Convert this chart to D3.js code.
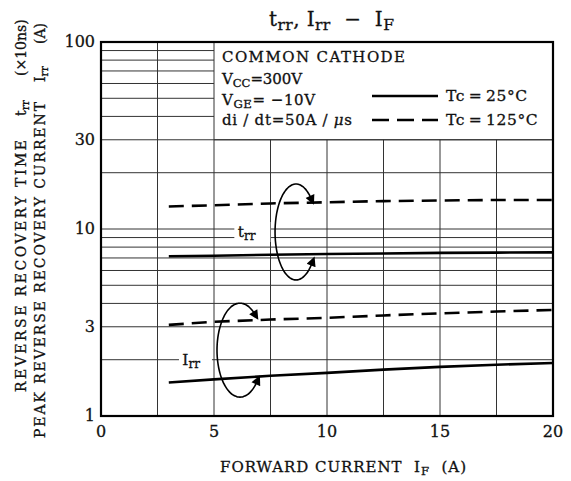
<!DOCTYPE html>
<html lang="en">
<head>
<meta charset="UTF-8">
<title>trr, Irr - IF</title>
<script src="https://d3js.org/d3.v7.min.js"></script>
<style>
  body { margin: 0; background: #fff; }
  svg text { font-family: "DejaVu Serif", "Liberation Serif", serif; fill: #111; stroke: #111; stroke-width: 0.3; white-space: pre; }
  .grid line { stroke: #333; stroke-width: 1; }
  .curve { fill: none; stroke: #000; stroke-width: 2.6; }
</style>
</head>
<body>
<svg width="571" height="481"></svg>
<script>
// forward current IF (A)
const ifValues = [3, 5, 7.5, 10, 12.5, 15, 17.5, 20];

// trr (x10ns) and Irr (A)
const trr25  = [7.15, 7.2, 7.28, 7.35, 7.4, 7.45, 7.48, 7.5];
const trr125 = [13.2, 13.4, 13.7, 13.9, 14.1, 14.2, 14.3, 14.3];
const irr25  = [1.51, 1.57, 1.64, 1.70, 1.77, 1.83, 1.88, 1.92];
const irr125 = [3.07, 3.19, 3.28, 3.35, 3.45, 3.54, 3.62, 3.69];

const xTicks = [0, 5, 10, 15, 20];
const yTicks = [1, 3, 10, 30, 100];
const xGrid = [0, 2.5, 5, 7.5, 10, 12.5, 15, 17.5, 20];
const yGrid = [1, 2, 3, 4, 5, 6, 7, 8, 9, 10, 20, 30, 40, 50, 60, 70, 80, 90, 100];

const svg = d3.select("svg");
const margin = {top: 42, right: 18, bottom: 65, left: 101};
const width = 571 - margin.left - margin.right,
      height = 481 - margin.top - margin.bottom;

const x = d3.scaleLinear().domain([0, 20]).range([0, width]);
const y = d3.scaleLog().domain([1, 100]).range([height, 0]);

const g = svg.append("g").attr("transform", `translate(${margin.left},${margin.top})`);

// text with subscripts: parts = [[text, isSub, italic]]
function rich(sel, parts, size) {
  parts.forEach(p => {
    const t = sel.append("tspan").text(p[0]);
    if (p[1]) t.attr("font-size", size * 0.78).attr("baseline-shift", "-25%");
    if (p[2]) t.attr("font-style", "italic");
  });
  return sel;
}

// grid
const grid = g.append("g").attr("class", "grid");
grid.selectAll(".v").data(xGrid).join("line")
  .attr("x1", d => x(d)).attr("x2", d => x(d))
  .attr("y1", d => d >= 5 ? y(30) : 0).attr("y2", height);
grid.selectAll(".h").data(yGrid).join("line")
  .attr("x1", 0).attr("y1", d => y(d)).attr("y2", d => y(d))
  .attr("x2", d => d > 30 ? x(5) : width);
// legend box edges
grid.append("line").attr("x1", x(5)).attr("x2", x(5)).attr("y1", 0).attr("y2", y(30)).attr("stroke-width", 1.6);
grid.append("line").attr("x1", x(5)).attr("x2", width).attr("y1", y(30)).attr("y2", y(30)).attr("stroke-width", 1.6);

// label backgrounds for trr / Irr
g.append("rect").attr("x", x(5.9)).attr("y", y(10) - 7).attr("width", 36).attr("height", 20).attr("fill", "#fff");
g.append("rect").attr("x", x(3.45)).attr("y", y(2) - 10).attr("width", 33).attr("height", 20).attr("fill", "#fff");

// curves
const line = vals => d3.line().x((d, i) => x(ifValues[i])).y(d => y(d))(vals);
const series = [
  {vals: trr125, dash: "15,8"},
  {vals: trr25, dash: null},
  {vals: irr125, dash: "15,8"},
  {vals: irr25, dash: null}
];
g.selectAll(".curve").data(series).join("path")
  .attr("class", "curve")
  .attr("d", d => line(d.vals))
  .attr("stroke-dasharray", d => d.dash);

// curve labels
rich(g.append("text").attr("x", x(6.05)).attr("y", y(10) + 8).attr("font-size", 15.5), [["t"], ["rr", true]], 15.5);
rich(g.append("text").attr("x", x(3.6)).attr("y", y(2) + 5).attr("font-size", 15.5), [["I"], ["rr", true]], 15.5);

// curved arrows
svg.append("defs").append("marker")
  .attr("id", "head").attr("viewBox", "0 0 10 10").attr("refX", 3).attr("refY", 5)
  .attr("markerWidth", 7).attr("markerHeight", 6).attr("orient", "auto-start-reverse")
  .attr("markerUnits", "strokeWidth")
  .append("path").attr("d", "M0,0 L10,5 L0,10 Z").attr("fill", "#000");

const arrows = [
  {cx: 8.63, cy: 9.64, rx: 21, ry: 48, a0: -44, a1: 38},
  {cx: 6.15, cy: 2.25, rx: 23, ry: 47, a0: -50, a1: 40}
];
arrows.forEach(a => {
  const cx = x(a.cx), cy = y(a.cy);
  const pts = [];
  // from a0 going counter-clockwise (via top, left, bottom) to a1
  for (let t = a.a0; t >= a.a1 - 360; t -= 4) {
    const r = t * Math.PI / 180;
    pts.push([cx + a.rx * Math.cos(r), cy + a.ry * Math.sin(r)]);
  }
  g.append("path")
    .attr("d", d3.line().curve(d3.curveBasis)(pts))
    .attr("fill", "none").attr("stroke", "#000").attr("stroke-width", 1.6)
    .attr("marker-start", "url(#head)").attr("marker-end", "url(#head)");
});

// frame
g.append("rect").attr("width", width).attr("height", height)
  .attr("fill", "none").attr("stroke", "#000").attr("stroke-width", 2.2);

// legend box content
const lx = x(5) + 8, fs = 15;
g.append("text").attr("x", lx).attr("y", 20).attr("font-size", fs).attr("textLength", 183).text("COMMON CATHODE");
rich(g.append("text").attr("x", lx).attr("y", 42).attr("font-size", fs).attr("textLength", 80), [["V"], ["CC", true], ["=300V"]], fs);
rich(g.append("text").attr("x", lx).attr("y", 63).attr("font-size", fs).attr("textLength", 93), [["V"], ["GE", true], ["= \u221210V"]], fs);
rich(g.append("text").attr("x", lx).attr("y", 83).attr("font-size", fs).attr("textLength", 130), [["di / dt=50A / "], ["\u03bc", false, true], ["s"]], fs);

const legend = [
  {label: "Tc\u2009=\u200925\u00b0C", dash: null, yy: 54},
  {label: "Tc\u2009=\u2009125\u00b0C", dash: "17,8", yy: 78}
];
legend.forEach(l => {
  g.append("line").attr("x1", 271).attr("x2", 337).attr("y1", l.yy).attr("y2", l.yy)
    .attr("stroke", "#000").attr("stroke-width", 2.6).attr("stroke-dasharray", l.dash);
  g.append("text").attr("x", 345).attr("y", l.yy + 5).attr("font-size", 15.5)
    .attr("letter-spacing", 0.6).text(l.label);
});

// axes tick labels
g.selectAll(".xt").data(xTicks).join("text")
  .attr("x", d => x(d)).attr("y", height + 21).attr("text-anchor", "middle")
  .attr("font-size", 16).text(d => d);
g.selectAll(".yt").data(yTicks).join("text")
  .attr("x", -6).attr("y", d => y(d) + 5).attr("text-anchor", "end")
  .attr("font-size", 16).text(d => d);

// title
rich(svg.append("text").attr("x", 269).attr("y", 26).attr("font-size", 20).attr("textLength", 125),
  [["t"], ["rr", true], [", I"], ["rr", true], ["  \u2212  I"], ["F", true]], 20);

// x axis title
rich(svg.append("text").attr("x", 220).attr("y", 472).attr("font-size", 15).attr("textLength", 246),
  [["FORWARD CURRENT  I"], ["F", true], ["  (A)"]], 15);

// y axis titles (rotated), pieces placed along each line
const yPieces = [
  {bx: 26, y0: 392, len: 252, parts: [["REVERSE RECOVERY TIME"]]},
  {bx: 26, y0: 116, len: null, parts: [["t"], ["rr", true]]},
  {bx: 26, y0: 76, len: null, parts: [["(\u00d710ns)"]]},
  {bx: 45, y0: 438, len: 336, parts: [["PEAK REVERSE RECOVERY CURRENT"]]},
  {bx: 45, y0: 82, len: null, parts: [["I"], ["rr", true]]},
  {bx: 45, y0: 44, len: null, parts: [["(A)"]]}
];
yPieces.forEach(p => {
  const t = svg.append("text").attr("transform", `translate(${p.bx},${p.y0}) rotate(-90)`)
    .attr("font-size", 14);
  if (p.len) t.attr("textLength", p.len);
  rich(t, p.parts, 14);
});
</script>
</body>
</html>
